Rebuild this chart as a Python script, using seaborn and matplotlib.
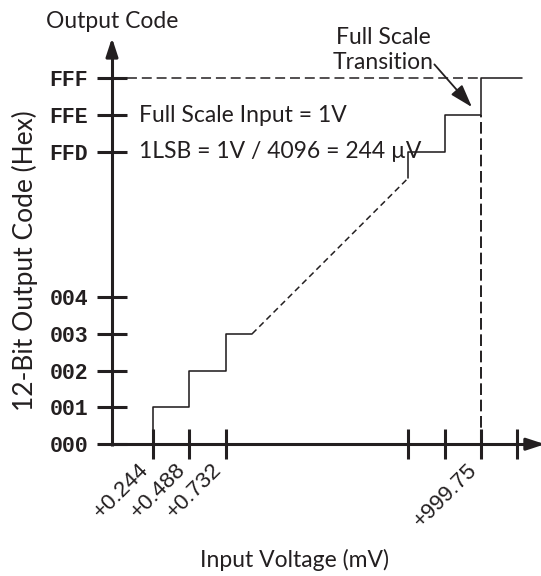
import numpy as np
import pandas as pd
import matplotlib
matplotlib.use("Agg")
import matplotlib.pyplot as plt
import seaborn as sns

# 12-bit ADC ideal transfer function, 1 V full scale (1 LSB = 244 uV)
low_transitions = [0, 1, 2, 3, 3.72]          # input, in LSB
low_codes = [0, 1, 2, 3, 3]                   # output code
high_transitions = [4093, 4093, 4094, 4095, 4096.12]
high_codes = [4092.29, 4093, 4094, 4095, 4095]

ytick_codes = [0, 1, 2, 3, 4, 4093, 4094, 4095]
ytick_labels = ["000", "001", "002", "003", "004", "FFD", "FFE", "FFF"]
xtick_lsb = [1, 2, 3, 4093, 4094, 4095, 4096]
xtick_labels = ["+0.244", "+0.488", "+0.732", "", "", "+999.75", ""]

full_scale_code = 4095
full_scale_lsb = 4095

INK = "#231f20"
W, H = 541, 576


def xpos(lsb):
    """Broken input axis: the first few LSBs, then the last few before full scale."""
    a = np.asarray(lsb, dtype=float)
    return np.where(a < 100, a, a - 4093 + 8.0)


def ypos(code):
    """Broken output axis: codes 000-004, then FFD-FFF."""
    a = np.asarray(code, dtype=float)
    return np.where(a < 100, a, a - 4093 + 7.94)


sns.set_theme(style="white")
plt.rcParams["font.family"] = ["Lato", "DejaVu Sans"]
plt.rcParams["text.color"] = INK

fig = plt.figure(figsize=(W / 100, H / 100), dpi=100)
ax = fig.add_axes([0, 0, 1, 1])
ax.set_xlim(-3.1975, 11.645)
ax.set_ylim(-3.581, 12.07)
ax.set_facecolor("white")

# axes drawn as arrows through the origin
x0 = -0.125
for side in ("top", "right"):
    ax.spines[side].set_visible(False)
ax.spines["left"].set_position(("data", x0))
ax.spines["bottom"].set_position(("data", 0))
ax.spines["left"].set_bounds(-0.04, 10.8)
ax.spines["bottom"].set_bounds(x0 - 0.04, 11.4)
for s in ("left", "bottom"):
    ax.spines[s].set_color(INK)
    ax.spines[s].set_linewidth(2.2)
    ax.spines[s].set_capstyle("butt")

head = dict(arrowstyle="-|>,head_length=1.1,head_width=0.36", color=INK,
            lw=2.2, mutation_scale=10, shrinkA=0, shrinkB=0)
ax.annotate("", xy=(x0, 11.04), xytext=(x0, 10.6), arrowprops=head, annotation_clip=False)
ax.annotate("", xy=(11.755, 0), xytext=(11.3, 0), arrowprops=head, annotation_clip=False)

# ticks
ax.set_yticks(ypos(ytick_codes))
ax.set_yticklabels(ytick_labels, family="Liberation Mono", fontweight="bold",
                   fontsize=15.5, color=INK)
ax.set_xticks(xpos(xtick_lsb))
ax.set_xticklabels(xtick_labels, family="Liberation Sans", fontsize=16,
                   color=INK, rotation=45, ha="right", va="top")
ax.tick_params(axis="y", left=True, direction="inout", length=21.6, width=2.2,
               color=INK, pad=6.5)
ax.tick_params(axis="x", bottom=True, direction="inout", length=21.6, width=2.2,
               color=INK, pad=0)
ax.grid(False)

# staircase segments
steps = pd.DataFrame({
    "x": np.concatenate([xpos(low_transitions), xpos(high_transitions)]),
    "y": np.concatenate([ypos(low_codes), ypos(high_codes)]),
    "seg": ["low"] * len(low_codes) + ["high"] * len(high_codes),
})
sns.lineplot(data=steps, x="x", y="y", units="seg", estimator=None, sort=False,
             drawstyle="steps-post", color=INK, lw=1.15, ax=ax, legend=False)

# dashed ramp bridging the broken range
ax.plot(xpos([low_transitions[-1], high_transitions[0]]),
        ypos([low_codes[-1], high_codes[0]]),
        color=INK, lw=1.1, linestyle=(0, (4, 2.6)))

# full-scale guides
tick_half = 15 / 36.45
ax.plot([x0 + tick_half, xpos(full_scale_lsb)], [ypos(full_scale_code)] * 2,
        color=INK, lw=1.1, linestyle=(0, (6.5, 3.2)))
ax.plot([xpos(full_scale_lsb)] * 2, [0, ypos(full_scale_code - 1)],
        color=INK, lw=1.4, linestyle=(0, (6, 2.4)))

ax.set_xlabel("")
ax.set_ylabel("")


def fx(px):
    return px / W


def fy(py):
    return 1 - py / H


fs = 16.5
fig.text(fx(112), fy(22), "Output Code", ha="center", va="center", fontsize=fs)
fig.text(fx(295), fy(560), "Input Voltage (mV)", ha="center", va="center", fontsize=fs)
fig.text(fx(25), fy(261), "12-Bit Output Code (Hex)", ha="center", va="center",
         rotation=90, fontsize=19)
fig.text(fx(139), fy(115), "Full Scale Input = 1V", ha="left", va="center", fontsize=fs)
fig.text(fx(139), fy(152), "1LSB = 1V / 4096 = 244 µV", ha="left", va="center", fontsize=fs)
fig.text(fx(383), fy(50), "Full Scale\nTransition", ha="center", va="center",
         fontsize=fs, linespacing=1.22)

# pointer to the full-scale transition
ax.annotate("", xy=(xpos(4094) + 0.75, ypos(4094) + 0.22),
            xytext=(xpos(4094) - 0.28, ypos(4095) + 0.38),
            arrowprops=dict(arrowstyle="-|>,head_length=1.4,head_width=0.45",
                            color=INK, lw=1.3, mutation_scale=10,
                            shrinkA=0, shrinkB=0))

fig.savefig("out.png", dpi=100, facecolor="white")
